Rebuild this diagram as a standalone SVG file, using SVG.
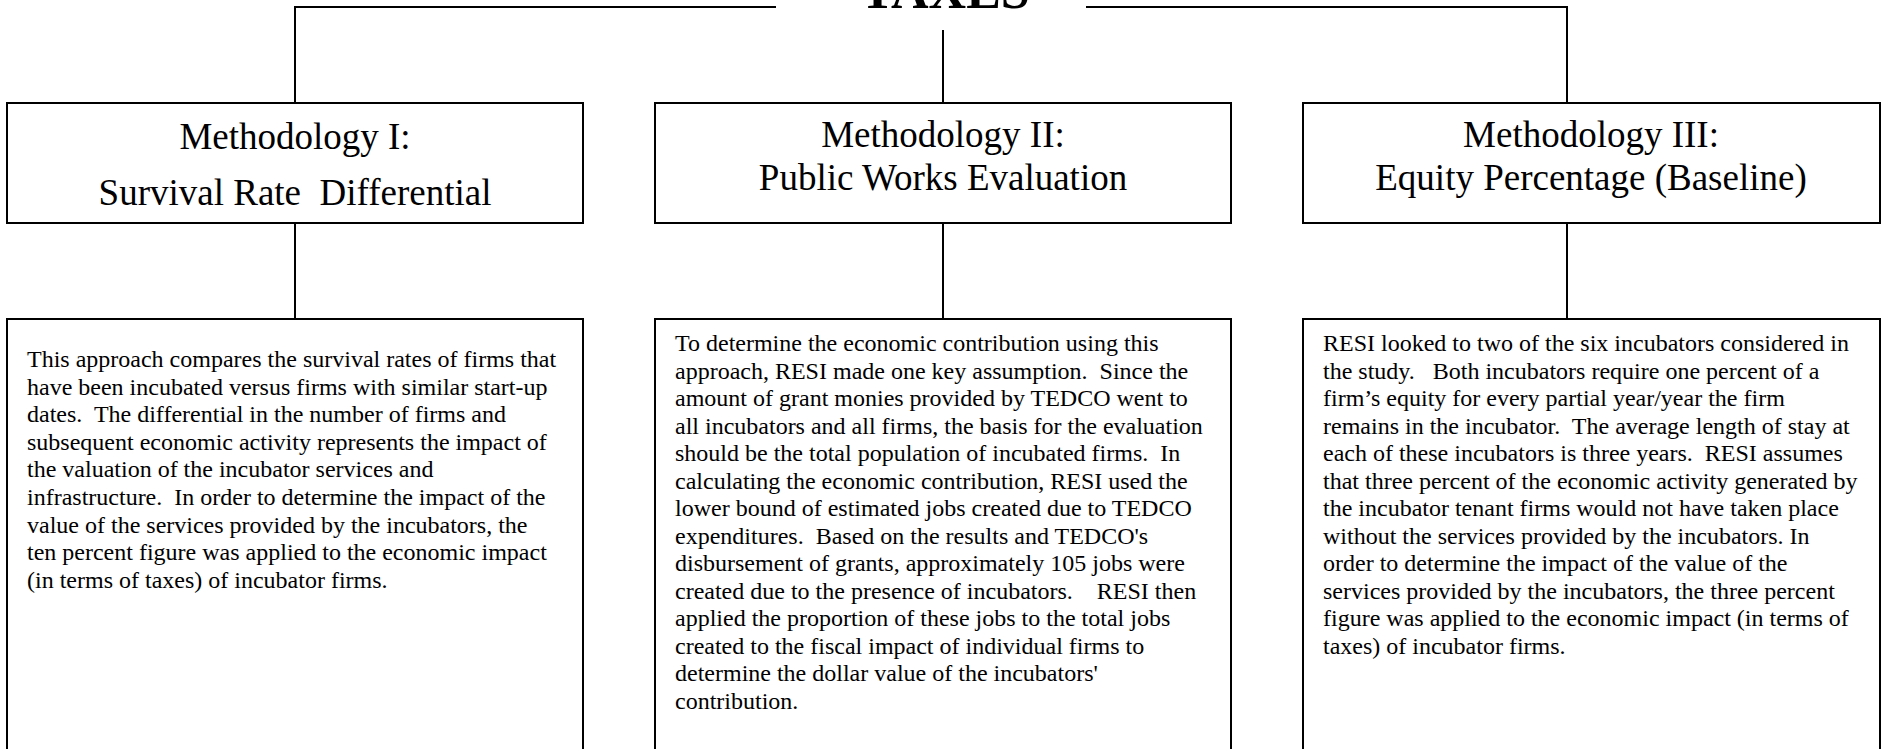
<svg xmlns="http://www.w3.org/2000/svg" width="1885" height="749" viewBox="0 0 1885 749">
<style>
.box{fill:#fff;stroke:#000;stroke-width:2}
.conn line{stroke:#000;stroke-width:2}
.head{font-family:"Liberation Serif","Times New Roman",serif;font-size:37px;fill:#000;text-anchor:middle}
.body{font-family:"Liberation Serif","Times New Roman",serif;font-size:24px;fill:#000;white-space:pre}
.title{font-family:"Liberation Serif","Times New Roman",serif;font-size:52px;font-weight:bold;fill:#000;text-anchor:middle}
</style>
<rect width="1885" height="749" fill="#fff"/>
<g id="connectors" class="conn">
<line x1="295" y1="7" x2="776" y2="7"/>
<line x1="1086" y1="7" x2="1567" y2="7"/>
<line x1="295" y1="6" x2="295" y2="103"/>
<line x1="1567" y1="6" x2="1567" y2="103"/>
<line x1="943" y1="30" x2="943" y2="103"/>
<line x1="295" y1="223" x2="295" y2="319"/>
<line x1="943" y1="223" x2="943" y2="319"/>
<line x1="1567" y1="223" x2="1567" y2="319"/>
</g>
<g id="taxes">
<text class="title" x="945" y="8">TAXES</text>
</g>
<g id="method1">
<rect class="box" x="7" y="103" width="576" height="120"/>
<text class="head" x="295" y="149">Methodology I:</text>
<text class="head" x="295" y="205" style="white-space:pre">Survival Rate  Differential</text>
</g>
<g id="method2">
<rect class="box" x="655" y="103" width="576" height="120"/>
<text class="head" x="943" y="147">Methodology II:</text>
<text class="head" x="943" y="190">Public Works Evaluation</text>
</g>
<g id="method3">
<rect class="box" x="1303" y="103" width="577" height="120"/>
<text class="head" x="1591" y="147">Methodology III:</text>
<text class="head" x="1591" y="190">Equity Percentage (Baseline)</text>
</g>
<g id="desc1">
<rect class="box" x="7" y="319" width="576" height="450"/>
<text class="body" x="27" y="367">This approach compares the survival rates of firms that</text>
<text class="body" x="27" y="394.6">have been incubated versus firms with similar start-up</text>
<text class="body" x="27" y="422.2">dates.  The differential in the number of firms and</text>
<text class="body" x="27" y="449.8">subsequent economic activity represents the impact of</text>
<text class="body" x="27" y="477.4">the valuation of the incubator services and</text>
<text class="body" x="27" y="505">infrastructure.  In order to determine the impact of the</text>
<text class="body" x="27" y="532.6">value of the services provided by the incubators, the</text>
<text class="body" x="27" y="560.2">ten percent figure was applied to the economic impact</text>
<text class="body" x="27" y="587.8">(in terms of taxes) of incubator firms.</text>
</g>
<g id="desc2">
<rect class="box" x="655" y="319" width="576" height="450"/>
<text class="body" x="675" y="351">To determine the economic contribution using this</text>
<text class="body" x="675" y="378.5">approach, RESI made one key assumption.  Since the</text>
<text class="body" x="675" y="406">amount of grant monies provided by TEDCO went to</text>
<text class="body" x="675" y="433.5">all incubators and all firms, the basis for the evaluation</text>
<text class="body" x="675" y="461">should be the total population of incubated firms.  In</text>
<text class="body" x="675" y="488.5">calculating the economic contribution, RESI used the</text>
<text class="body" x="675" y="516">lower bound of estimated jobs created due to TEDCO</text>
<text class="body" x="675" y="543.5">expenditures.  Based on the results and TEDCO's</text>
<text class="body" x="675" y="571">disbursement of grants, approximately 105 jobs were</text>
<text class="body" x="675" y="598.5">created due to the presence of incubators.    RESI then</text>
<text class="body" x="675" y="626">applied the proportion of these jobs to the total jobs</text>
<text class="body" x="675" y="653.5">created to the fiscal impact of individual firms to</text>
<text class="body" x="675" y="681">determine the dollar value of the incubators'</text>
<text class="body" x="675" y="708.5">contribution.</text>
</g>
<g id="desc3">
<rect class="box" x="1303" y="319" width="577" height="450"/>
<text class="body" x="1323" y="351">RESI looked to two of the six incubators considered in</text>
<text class="body" x="1323" y="378.5">the study.   Both incubators require one percent of a</text>
<text class="body" x="1323" y="406">firm’s equity for every partial year/year the firm</text>
<text class="body" x="1323" y="433.5">remains in the incubator.  The average length of stay at</text>
<text class="body" x="1323" y="461">each of these incubators is three years.  RESI assumes</text>
<text class="body" x="1323" y="488.5">that three percent of the economic activity generated by</text>
<text class="body" x="1323" y="516">the incubator tenant firms would not have taken place</text>
<text class="body" x="1323" y="543.5">without the services provided by the incubators. In</text>
<text class="body" x="1323" y="571">order to determine the impact of the value of the</text>
<text class="body" x="1323" y="598.5">services provided by the incubators, the three percent</text>
<text class="body" x="1323" y="626">figure was applied to the economic impact (in terms of</text>
<text class="body" x="1323" y="653.5">taxes) of incubator firms.</text>
</g>
</svg>
